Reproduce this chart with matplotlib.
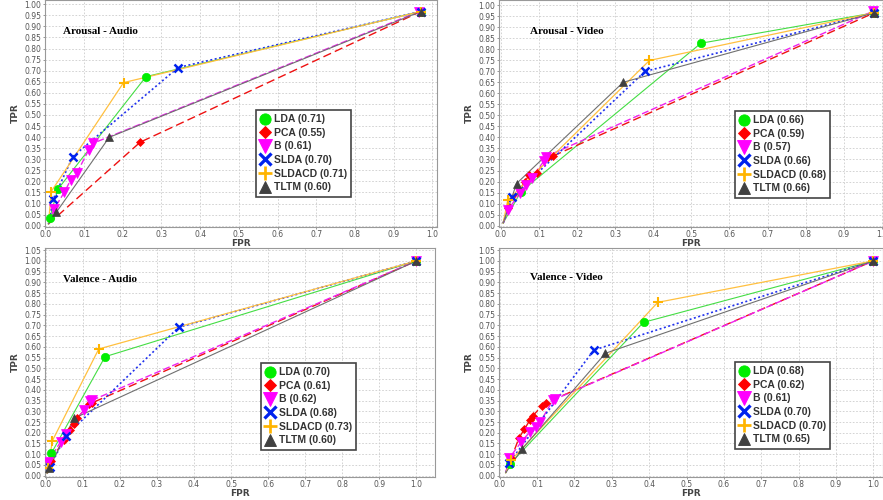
import matplotlib
matplotlib.use("Agg")
import matplotlib.pyplot as plt
from matplotlib.lines import Line2D
import numpy as np

W, H = 883, 500

METHODS = ["LDA", "PCA", "B", "SLDA", "SLDACD", "TLTM"]

# ─── Data (FPR, TPR) ────────────────────────────────────────────────────────

# Arousal - Audio
AA_LDA = [(0.008, 0.008), (0.011, 0.033), (0.032, 0.164), (0.26, 0.673), (0.97, 0.967)]
AA_PCA = [(0.008, 0.008), (0.245, 0.377), (0.97, 0.967)]
AA_B = [(0.008, 0.008), (0.022, 0.074), (0.049, 0.151), (0.065, 0.205), (0.082, 0.24),
        (0.112, 0.342), (0.123, 0.372), (0.966, 0.967)]
AA_SLDA = [(0.008, 0.008), (0.02, 0.119), (0.071, 0.312), (0.343, 0.714), (0.97, 0.967)]
AA_SLDACD = [(0.008, 0.008), (0.015, 0.154), (0.202, 0.646), (0.97, 0.967)]
AA_TLTM = [(0.008, 0.008), (0.028, 0.06), (0.165, 0.399), (0.97, 0.967)]
AA_AUC = [0.71, 0.55, 0.61, 0.70, 0.71, 0.60]

# Arousal - Video
AV_LDA = [(0.006, 0.012), (0.052, 0.153), (0.525, 0.827), (0.98, 0.965)]
AV_PCA = [(0.006, 0.012), (0.019, 0.078), (0.063, 0.2), (0.074, 0.23), (0.094, 0.24),
          (0.124, 0.311), (0.137, 0.316), (0.98, 0.965)]
AV_B = [(0.006, 0.012), (0.019, 0.071), (0.05, 0.15), (0.066, 0.185), (0.081, 0.218),
        (0.113, 0.293), (0.118, 0.313), (0.978, 0.973)]
AV_SLDA = [(0.006, 0.012), (0.028, 0.128), (0.378, 0.699), (0.98, 0.965)]
AV_SLDACD = [(0.006, 0.012), (0.018, 0.116), (0.39, 0.749), (0.98, 0.965)]
AV_TLTM = [(0.006, 0.012), (0.041, 0.191), (0.321, 0.65), (0.98, 0.965)]
AV_AUC = [0.66, 0.59, 0.57, 0.66, 0.68, 0.66]

# Valence - Audio
VA_LDA = [(0.004, 0.011), (0.015, 0.104), (0.16, 0.554), (1.0, 1.0)]
VA_PCA = [(0.004, 0.011), (0.015, 0.07), (0.048, 0.166), (0.065, 0.213), (0.076, 0.241),
          (0.085, 0.267), (0.117, 0.334), (0.126, 0.34), (1.0, 1.0)]
VA_B = [(0.004, 0.011), (0.007, 0.065), (0.04, 0.158), (0.054, 0.194), (0.103, 0.306),
        (0.119, 0.349), (0.126, 0.352), (1.0, 1.0)]
VA_SLDA = [(0.004, 0.011), (0.012, 0.042), (0.054, 0.186), (0.359, 0.691), (1.0, 1.0)]
VA_SLDACD = [(0.004, 0.011), (0.006, 0.034), (0.018, 0.163), (0.143, 0.59), (1.0, 1.0)]
VA_TLTM = [(0.004, 0.011), (0.009, 0.034), (0.076, 0.267), (1.0, 1.0)]
VA_AUC = [0.70, 0.61, 0.62, 0.68, 0.73, 0.60]

# Valence - Video
VV_LDA = [(0.016, 0.014), (0.027, 0.054), (0.385, 0.714), (1.0, 1.0)]
VV_PCA = [(0.016, 0.014), (0.031, 0.081), (0.051, 0.174), (0.066, 0.217), (0.081, 0.259),
          (0.088, 0.278), (0.113, 0.325), (0.124, 0.34), (1.0, 1.0)]
VV_B = [(0.016, 0.014), (0.025, 0.081), (0.058, 0.158), (0.081, 0.205), (0.096, 0.228),
        (0.108, 0.248), (0.142, 0.352), (0.149, 0.357), (1.0, 1.0)]
VV_SLDA = [(0.016, 0.014), (0.025, 0.06), (0.252, 0.585), (1.0, 1.0)]
VV_SLDACD = [(0.016, 0.014), (0.031, 0.073), (0.423, 0.807), (1.0, 1.0)]
VV_TLTM = [(0.016, 0.014), (0.059, 0.123), (0.283, 0.57), (1.0, 1.0)]
VV_AUC = [0.68, 0.62, 0.61, 0.70, 0.70, 0.65]

# ─── Styles ──────────────────────────────────────────────────────────────────

STYLE = {
    "LDA":    dict(color="#00ee00", line="#44dd44", marker="o", ls="-", lw=0.8, ms=6, mew=0.5),
    "PCA":    dict(color="#ff0000", line="#ee1111", marker="D", ls=(0, (6, 3)), lw=1.0, ms=4.5, mew=0.5),
    "B":      dict(color="#ff00ff", line="#ee22ee", marker="v", ls=(0, (5, 2)), lw=1.0, ms=7, mew=0.5),
    "SLDA":   dict(color="#0022ee", line="#2233ee", marker="x", ls=(0, (1.2, 1.5)), lw=1.2, ms=6, mew=1.8),
    "SLDACD": dict(color="#ffb400", line="#ffc040", marker="+", ls="-", lw=0.9, ms=7, mew=1.5),
    "TLTM":   dict(color="#404040", line="#707070", marker="^", ls="-", lw=0.8, ms=6, mew=0.5),
}

# (title, series, auc, box px (left, top, right, bottom), xlim, ylim, ymax tick, title px, legend px)
PANELS = [
    ("Arousal - Audio", [AA_LDA, AA_PCA, AA_B, AA_SLDA, AA_SLDACD, AA_TLTM], AA_AUC,
     (45, 0, 437, 227), (-0.001, 1.012), (-0.006, 1.019), 1.0, (63, 32), (256, 110)),
    ("Arousal - Video", [AV_LDA, AV_PCA, AV_B, AV_SLDA, AV_SLDACD, AV_TLTM], AV_AUC,
     (499, 0, 883, 227), (-0.005, 1.003), (-0.006, 1.023), 1.0, (530, 31), (735, 111)),
    ("Valence - Audio", [VA_LDA, VA_PCA, VA_B, VA_SLDA, VA_SLDACD, VA_TLTM], VA_AUC,
     (45, 248, 435, 477), (-0.002, 1.05), (-0.006, 1.06), 1.05, (63, 279), (261, 363)),
    ("Valence - Video", [VV_LDA, VV_PCA, VV_B, VV_SLDA, VV_SLDACD, VV_TLTM], VV_AUC,
     (499, 248, 883, 477), (-0.002, 1.026), (-0.006, 1.06), 1.05, (530, 278), (735, 362)),
]

fig = plt.figure(figsize=(W / 100, H / 100), dpi=100)
fig.patch.set_facecolor("white")

for title, series, auc, box, xlim, ylim, ymax, tpos, lpos in PANELS:
    l, t, r, b = box
    ax = fig.add_axes([l / W, 1 - b / H, (r - l) / W, (b - t) / H])
    ax.set_xlim(*xlim)
    ax.set_ylim(*ylim)
    ax.set_xticks(np.round(np.arange(0, 1.01, 0.1), 2))
    ax.set_yticks(np.round(np.arange(0, ymax + 0.001, 0.05), 2))
    ax.xaxis.set_major_formatter(matplotlib.ticker.FormatStrFormatter("%.1f"))
    ax.yaxis.set_major_formatter(matplotlib.ticker.FormatStrFormatter("%.2f"))
    ax.tick_params(labelsize=5.5, labelcolor="#555555", color="#888888", length=1.5, width=0.6, pad=1)
    ax.grid(True, color="#cccccc", linestyle=(0, (2, 2)), linewidth=0.6)
    ax.set_axisbelow(True)
    for sp in ax.spines.values():
        sp.set_color("#999999")
        sp.set_linewidth(0.8)

    for name, pts in zip(METHODS, series):
        st = STYLE[name]
        xs = [p[0] for p in pts]
        ys = [p[1] for p in pts]
        ax.plot(xs, ys, color=st["line"], linestyle=st["ls"], linewidth=st["lw"], zorder=2)
        ax.plot(xs[1:], ys[1:], linestyle="none", marker=st["marker"], color=st["color"],
                markersize=st["ms"], markeredgewidth=st["mew"], markeredgecolor=st["color"], zorder=3)

    ax.set_xlabel("FPR", fontsize=6.5, fontweight="bold", color="#444444", labelpad=0)
    ax.set_ylabel("TPR", fontsize=6.5, fontweight="bold", color="#444444", labelpad=3)

    fig.text(tpos[0] / W, 1 - tpos[1] / H, title, fontsize=8, fontweight="bold",
             family="Liberation Serif", va="center", ha="left")

    handles = []
    for name in METHODS:
        st = STYLE[name]
        handles.append(Line2D([], [], linestyle="none", marker=st["marker"], color=st["color"],
                              markersize=st["ms"] * 1.35, markeredgewidth=st["mew"] * 1.3,
                              markeredgecolor=st["color"]))
    labels = [f"{n} ({a:.2f})" for n, a in zip(METHODS, auc)]
    leg = ax.legend(handles, labels, loc="upper left",
                    bbox_to_anchor=(lpos[0] / W, 1 - lpos[1] / H), bbox_transform=fig.transFigure,
                    borderaxespad=0, fancybox=False, framealpha=1, edgecolor="#444444",
                    prop=dict(family="Liberation Sans", weight="bold", size=7.5),
                    handlelength=1.0, handletextpad=0.3, borderpad=0.4, labelspacing=0.35)
    leg.get_frame().set_linewidth(1.2)
    for txt in leg.get_texts():
        txt.set_color("#333333")

fig.savefig("out.png", dpi=100, facecolor="white")
